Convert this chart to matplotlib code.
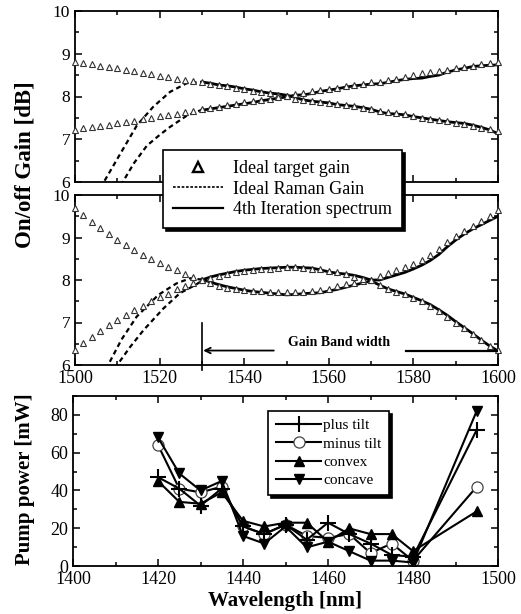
import matplotlib
matplotlib.use("Agg")
import matplotlib.pyplot as plt
import numpy as np
from matplotlib.lines import Line2D
from matplotlib.ticker import MultipleLocator

plt.rcParams['font.family'] = ['Liberation Serif', 'DejaVu Serif']

# ---- Data: target gain (triangles), 2 nm grid 1500..1600
wl_target = np.arange(1500, 1601, 2)

top_target_a = [8.81, 8.79, 8.76, 8.72, 8.69, 8.66, 8.63, 8.60, 8.56, 8.53,
                8.49, 8.46, 8.42, 8.39, 8.36, 8.33, 8.30, 8.27, 8.24, 8.21,
                8.18, 8.14, 8.11, 8.08, 8.04, 8.01, 7.94, 7.91, 7.89, 7.87,
                7.85, 7.82, 7.80, 7.78, 7.74, 7.71, 7.67, 7.64, 7.61, 7.58,
                7.54, 7.50, 7.47, 7.44, 7.42, 7.39, 7.36, 7.32, 7.27, 7.23, 7.19]
top_target_b = [7.22, 7.26, 7.28, 7.31, 7.34, 7.37, 7.40, 7.43, 7.47, 7.50,
                7.54, 7.57, 7.60, 7.64, 7.67, 7.70, 7.73, 7.76, 7.79, 7.83,
                7.86, 7.89, 7.92, 7.95, 7.98, 8.01, 8.07, 8.09, 8.12, 8.15,
                8.18, 8.21, 8.24, 8.27, 8.30, 8.33, 8.35, 8.38, 8.42, 8.46,
                8.51, 8.54, 8.57, 8.59, 8.63, 8.66, 8.70, 8.72, 8.75, 8.79, 8.81]
mid_target_c = [9.69, 9.53, 9.37, 9.22, 9.08, 8.95, 8.83, 8.70, 8.60, 8.49,
                8.40, 8.31, 8.23, 8.15, 8.07, 8.00, 7.93, 7.87, 7.82, 7.78,
                7.76, 7.74, 7.73, 7.72, 7.71, 7.71, 7.71, 7.72, 7.74, 7.77,
                7.80, 7.85, 7.90, 7.94, 7.98, 8.00, 7.88, 7.79, 7.72, 7.66,
                7.58, 7.50, 7.40, 7.27, 7.13, 6.99, 6.86, 6.72, 6.58, 6.45, 6.35]
mid_target_d = [6.35, 6.51, 6.66, 6.79, 6.93, 7.07, 7.18, 7.30, 7.40, 7.50,
                7.59, 7.68, 7.78, 7.85, 7.93, 8.00, 8.05, 8.10, 8.15, 8.19,
                8.22, 8.24, 8.26, 8.27, 8.29, 8.30, 8.30, 8.29, 8.27, 8.25,
                8.21, 8.18, 8.13, 8.07, 8.02, 8.00, 8.09, 8.17, 8.24, 8.31,
                8.38, 8.48, 8.59, 8.74, 8.90, 9.03, 9.15, 9.27, 9.39, 9.50, 9.65]

# 4th iteration spectrum, 1530..1600
wl_iter = np.arange(1530, 1601, 2)
top_iter_a = [8.34, 8.31, 8.27, 8.25, 8.22, 8.18, 8.15, 8.11, 8.08, 8.06,
              8.03, 7.98, 7.92, 7.89, 7.87, 7.85, 7.81, 7.79, 7.77, 7.74,
              7.70, 7.64, 7.60, 7.59, 7.57, 7.53, 7.50, 7.47, 7.44, 7.41,
              7.39, 7.37, 7.33, 7.28, 7.22, 7.13]
top_iter_b = [7.68, 7.71, 7.74, 7.77, 7.80, 7.83, 7.86, 7.90, 7.93, 7.96,
              7.99, 8.03, 8.04, 8.07, 8.12, 8.15, 8.18, 8.22, 8.25, 8.27,
              8.29, 8.30, 8.33, 8.37, 8.40, 8.42, 8.43, 8.47, 8.50, 8.57,
              8.62, 8.66, 8.70, 8.72, 8.73, 8.74]
mid_iter_c = [8.02, 7.95, 7.89, 7.84, 7.80, 7.76, 7.73, 7.71, 7.69, 7.67,
              7.65, 7.66, 7.68, 7.69, 7.70, 7.74, 7.78, 7.83, 7.88, 7.93,
              7.98, 7.88, 7.79, 7.73, 7.67, 7.59, 7.51, 7.42, 7.30, 7.17,
              7.02, 6.88, 6.74, 6.59, 6.45, 6.33]
mid_iter_d = [8.00, 8.07, 8.12, 8.16, 8.20, 8.23, 8.25, 8.27, 8.28, 8.29,
              8.30, 8.30, 8.29, 8.28, 8.24, 8.19, 8.16, 8.14, 8.11, 8.06,
              8.00, 8.00, 8.06, 8.12, 8.18, 8.26, 8.35, 8.46, 8.60, 8.78,
              8.94, 9.08, 9.20, 9.30, 9.40, 9.50]

# Ideal Raman gain (dashed), short-wavelength part
top_raman_a_x = [1506.0, 1510.0, 1514.6, 1518.5, 1522.5, 1526.4, 1530.0]
top_raman_a_y = [5.86, 6.54, 7.32, 7.76, 8.11, 8.31, 8.34]
top_raman_b_x = [1510.8, 1514.0, 1517.0, 1520.0, 1522.5, 1526.4, 1530.0]
top_raman_b_y = [5.92, 6.45, 6.85, 7.10, 7.29, 7.55, 7.69]
mid_raman_c_x = [1507.3, 1511.0, 1514.6, 1519.7, 1524.0, 1527.2, 1530.0]
mid_raman_c_y = [5.90, 6.60, 7.14, 7.65, 7.92, 8.04, 8.01]
mid_raman_d_x = [1509.4, 1513.0, 1516.2, 1520.9, 1524.8, 1528.4, 1530.0]
mid_raman_d_y = [5.92, 6.42, 6.82, 7.33, 7.69, 7.88, 7.98]

# Pump powers
pump_wl = [1420, 1425, 1430, 1435, 1440, 1445, 1450, 1455, 1460, 1465, 1470, 1475, 1480, 1495]
plus_tilt = [47, 41, 32, 41, 21, 17, 22, 14, 23, 17, 12, 6, 5, 72]
minus_tilt = [64, 41, 39, 42, 21, 17, 22, 16, 15, 17, 7, 12, 3, 42]
convex = [45, 34, 33, 39, 24, 21, 23, 23, 13, 20, 17, 17, 8, 29]
concave = [68, 49, 40, 45, 16, 12, 21, 10, 13, 8, 3, 3, 2, 82]

W, H = 521, 614
fig = plt.figure(figsize=(W / 100, H / 100), dpi=100)
fig.patch.set_facecolor('white')

ax_top = fig.add_axes([75 / W, 1 - 182 / H, 423 / W, 171 / H])
ax_mid = fig.add_axes([75 / W, 1 - 365 / H, 423 / W, 170 / H])
ax_bot = fig.add_axes([73 / W, 1 - 566.3 / H, 425 / W, 170.6 / H])

tri_kw = dict(linestyle='none', marker='^', markersize=5, markerfacecolor='white',
              markeredgecolor='#333333', markeredgewidth=0.8, zorder=4)
dash_kw = dict(color='black', linestyle=(0, (2.2, 1.6)), linewidth=1.6, zorder=2)
solid_kw = dict(color='black', linestyle='-', linewidth=2.0, zorder=3)


def style_axes(ax, xmaj, xmin, ymaj, ymin):
    ax.xaxis.set_major_locator(MultipleLocator(xmaj))
    ax.xaxis.set_minor_locator(MultipleLocator(xmin))
    ax.yaxis.set_major_locator(MultipleLocator(ymaj))
    ax.yaxis.set_minor_locator(MultipleLocator(ymin))
    ax.tick_params(which='both', direction='in', top=True, right=True, width=1.1,
                   labelsize=13, colors='black')
    ax.tick_params(which='major', length=5)
    ax.tick_params(which='minor', length=3)
    for s in ax.spines.values():
        s.set_linewidth(1.3)


# Top panel
ax_top.plot(top_raman_a_x, top_raman_a_y, **dash_kw)
ax_top.plot(top_raman_b_x, top_raman_b_y, **dash_kw)
ax_top.plot(wl_iter, top_iter_a, **solid_kw)
ax_top.plot(wl_iter, top_iter_b, **solid_kw)
ax_top.plot(wl_target, top_target_a, clip_on=False, **tri_kw)
ax_top.plot(wl_target, top_target_b, clip_on=False, **tri_kw)
ax_top.set_xlim(1500, 1600)
ax_top.set_ylim(6, 10)
style_axes(ax_top, 20, 10, 1, 0.5)
ax_top.tick_params(labelbottom=False)
ax_top.tick_params(axis='y', labelsize=12.5)

# Middle panel
ax_mid.plot(mid_raman_c_x, mid_raman_c_y, **dash_kw)
ax_mid.plot(mid_raman_d_x, mid_raman_d_y, **dash_kw)
ax_mid.plot(wl_iter, mid_iter_c, **solid_kw)
ax_mid.plot(wl_iter, mid_iter_d, **solid_kw)
ax_mid.plot(wl_target, mid_target_c, clip_on=False, **tri_kw)
ax_mid.plot(wl_target, mid_target_d, clip_on=False, **tri_kw)
ax_mid.set_xlim(1500, 1600)
ax_mid.set_ylim(6, 10)
style_axes(ax_mid, 20, 10, 1, 0.5)
ax_mid.tick_params(axis='y', labelsize=12.5)

# Gain bandwidth annotation
ax_mid.plot([1530, 1530], [5.88, 7.0], color='black', lw=1.2, clip_on=False, zorder=5)
ax_mid.annotate('', xy=(1530.3, 6.34), xytext=(1547, 6.34),
                arrowprops=dict(arrowstyle='->', lw=1.3, color='black',
                                shrinkA=0, shrinkB=0))
ax_mid.plot([1578.2, 1600], [6.34, 6.34], color='black', lw=1.6, zorder=5)
ax_mid.text(1562.5, 6.54, 'Gain Band width', ha='center', va='center',
            fontsize=10, fontweight='bold')

# Legend spanning the two upper panels
handles = [
    Line2D([], [], linestyle='none', marker='^', markersize=7.5, markerfacecolor='white',
           markeredgecolor='black', markeredgewidth=1.7),
    Line2D([], [], color='black', linestyle=(0, (1.6, 1.0)), linewidth=1.2),
    Line2D([], [], color='black', linestyle='-', linewidth=1.6),
]
labels = ['Ideal target gain', 'Ideal Raman Gain', '4th Iteration spectrum']
leg1 = fig.legend(handles, labels, loc='upper left',
                  bbox_to_anchor=(163 / W, 1 - 150 / H), bbox_transform=fig.transFigure,
                  fontsize=13, frameon=True, fancybox=False, borderaxespad=0,
                  handlelength=2.8, handletextpad=0.55, labelspacing=0.2, borderpad=0.55,
                  shadow={'color': 'black', 'alpha': 1.0})
leg1.get_frame().set_edgecolor('black')
leg1.get_frame().set_linewidth(1.2)
leg1.get_frame().set_alpha(1.0)

fig.text(25 / W, 1 - 165 / H, 'On/off Gain [dB]', rotation=90, ha='center',
         va='center', fontsize=16.5, fontweight='bold')

# Bottom panel
ax_bot.plot(pump_wl, plus_tilt, color='black', lw=1.5, marker='+', markersize=11,
            markeredgewidth=1.5, label='plus tilt', zorder=3)
ax_bot.plot(pump_wl, minus_tilt, color='black', lw=1.5, marker='o', markersize=8,
            markerfacecolor='white', markeredgecolor='#444444', markeredgewidth=0.9,
            label='minus tilt', zorder=2)
ax_bot.plot(pump_wl, convex, color='black', lw=1.5, marker='^', markersize=6.5,
            label='convex', zorder=3)
ax_bot.plot(pump_wl, concave, color='black', lw=1.5, marker='v', markersize=6.5,
            label='concave', zorder=3)
ax_bot.set_xlim(1400, 1500)
ax_bot.set_ylim(0, 90)
style_axes(ax_bot, 20, 10, 20, 10)
ax_bot.set_xlabel('Wavelength [nm]', fontsize=15, fontweight='bold', labelpad=2)
fig.text(25 / W, 1 - 479 / H, 'Pump power [mW]', rotation=90, ha='center',
         va='center', fontsize=15, fontweight='bold')

leg2 = ax_bot.legend(loc='upper left', bbox_to_anchor=(268 / W, 1 - 411 / H),
                     bbox_transform=fig.transFigure, fontsize=11, frameon=True,
                     fancybox=False, borderaxespad=0, handlelength=3.0,
                     handletextpad=0.1, labelspacing=0.3, borderpad=0.5,
                     shadow={'color': 'black', 'alpha': 1.0})
leg2.get_frame().set_edgecolor('black')
leg2.get_frame().set_linewidth(1.2)
leg2.get_frame().set_alpha(1.0)

fig.savefig('out.png', dpi=100)
